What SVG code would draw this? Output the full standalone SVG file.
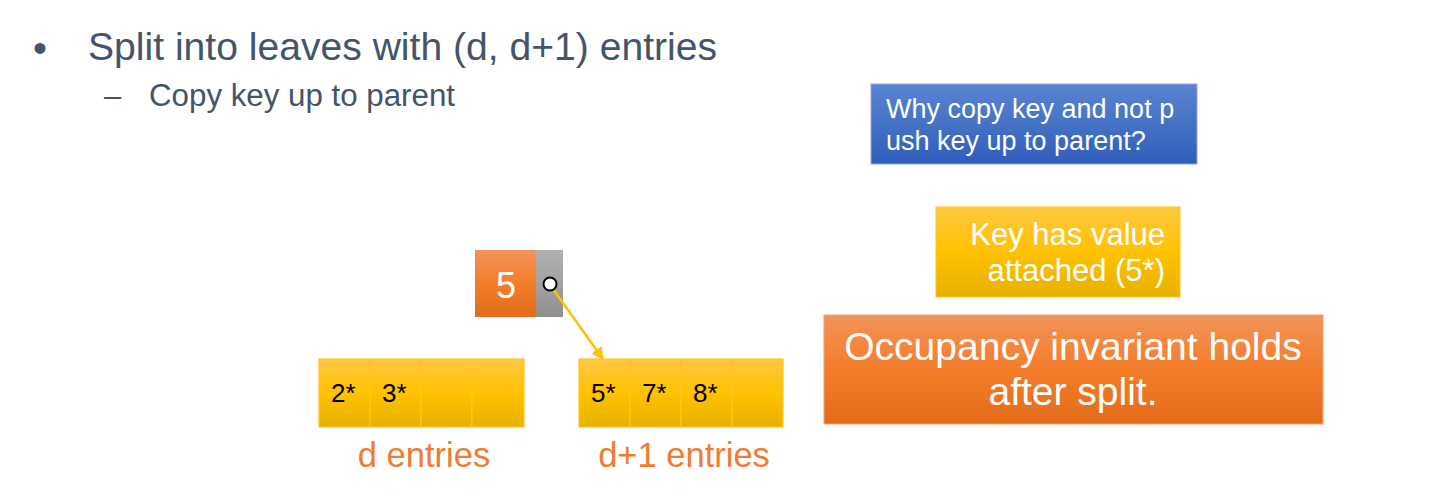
<svg xmlns="http://www.w3.org/2000/svg" width="1429" height="497" viewBox="0 0 1429 497">
<defs>
<linearGradient id="gOr" x1="0" y1="0" x2="0" y2="1">
<stop offset="0" stop-color="#F1935A"/><stop offset="0.5" stop-color="#F47D2A"/><stop offset="1" stop-color="#E36C1B"/>
</linearGradient>
<linearGradient id="gYe" x1="0" y1="0" x2="0" y2="1">
<stop offset="0" stop-color="#FFC843"/><stop offset="0.5" stop-color="#FFC200"/><stop offset="1" stop-color="#E8B100"/>
</linearGradient>
<linearGradient id="gBl" x1="0" y1="0" x2="0" y2="1">
<stop offset="0" stop-color="#5A84D2"/><stop offset="0.5" stop-color="#4472C4"/><stop offset="1" stop-color="#2F5EBC"/>
</linearGradient>
<linearGradient id="gGr" x1="0" y1="0" x2="0" y2="1">
<stop offset="0" stop-color="#B0B0B0"/><stop offset="0.5" stop-color="#A3A3A3"/><stop offset="1" stop-color="#8E8E8E"/>
</linearGradient>
<marker id="arr" viewBox="0 0 10 10" refX="9" refY="5" markerWidth="5" markerHeight="5" orient="auto" markerUnits="strokeWidth">
<path d="M0,0 L10,5 L0,10 z" fill="#FFC000"/>
</marker>
<style>
text{font-family:"Liberation Sans",Arial,sans-serif}
.hd{fill:#44546A}
.cell{fill:url(#gYe);stroke:#FFC522;stroke-width:1.2}
.ct{font-size:26px;fill:#000}
.lbl{font-size:34.5px;fill:#ED7D31}
.wt{fill:#FFFFFF}
</style>
</defs>
<rect width="1429" height="497" fill="#FFFFFF"/>
<g id="heading">
<text class="hd" x="33" y="62" font-size="40">•</text>
<text class="hd" x="88" y="60" font-size="39" textLength="629" lengthAdjust="spacingAndGlyphs">Split into leaves with (d, d+1) entries</text>
<text class="hd" x="104" y="106" font-size="31">–</text>
<text class="hd" x="149" y="106" font-size="31" textLength="306" lengthAdjust="spacingAndGlyphs">Copy key up to parent</text>
</g>
<g id="parent">
<rect x="475" y="250" width="61" height="67" fill="url(#gOr)"/>
<rect x="536" y="250" width="27" height="67" fill="url(#gGr)"/>
<text class="wt" x="506" y="298" font-size="36" text-anchor="middle">5</text>
</g>
<g id="leftLeaf">
<rect class="cell" x="319" y="359" width="51" height="68"/>
<rect class="cell" x="370" y="359" width="51" height="68"/>
<rect class="cell" x="421" y="359" width="51" height="68"/>
<rect class="cell" x="472" y="359" width="52" height="68"/>
<text class="ct" x="331" y="402">2*</text>
<text class="ct" x="382" y="402">3*</text>
</g>
<g id="rightLeaf">
<rect class="cell" x="579" y="359" width="51" height="68"/>
<rect class="cell" x="630" y="359" width="51" height="68"/>
<rect class="cell" x="681" y="359" width="51" height="68"/>
<rect class="cell" x="732" y="359" width="51" height="68"/>
<text class="ct" x="591" y="402">5*</text>
<text class="ct" x="642" y="402">7*</text>
<text class="ct" x="693" y="402">8*</text>
</g>
<g id="labels">
<text class="lbl" x="424" y="467" text-anchor="middle">d entries</text>
<text class="lbl" x="684" y="467" text-anchor="middle">d+1 entries</text>
</g>
<g id="connectors">
<line x1="553" y1="289" x2="603" y2="359" stroke="#FFC000" stroke-width="2.5" marker-end="url(#arr)"/>
<circle cx="550" cy="284" r="6.5" fill="#FFFFFF" stroke="#000" stroke-width="2"/>
</g>
<g id="whyBox">
<rect x="871" y="84" width="326" height="80" fill="url(#gBl)" stroke="#8EA9DB" stroke-width="1"/>
<text class="wt" x="886" y="118" font-size="27">Why copy key and not p</text>
<text class="wt" x="886" y="150" font-size="27">ush key up to parent?</text>
</g>
<g id="keyBox">
<rect x="936" y="207" width="244" height="90" fill="url(#gYe)" stroke="#FFC522" stroke-width="1"/>
<text class="wt" x="1165" y="245" font-size="31" text-anchor="end">Key has value</text>
<text class="wt" x="1165" y="281" font-size="31" text-anchor="end">attached (5*)</text>
</g>
<g id="occBox">
<rect x="824" y="315" width="499" height="109" fill="url(#gOr)" stroke="#F4A46E" stroke-width="1"/>
<text class="wt" x="1073" y="360" font-size="39" text-anchor="middle">Occupancy invariant holds</text>
<text class="wt" x="1073" y="405" font-size="39" text-anchor="middle">after split.</text>
</g>
</svg>
